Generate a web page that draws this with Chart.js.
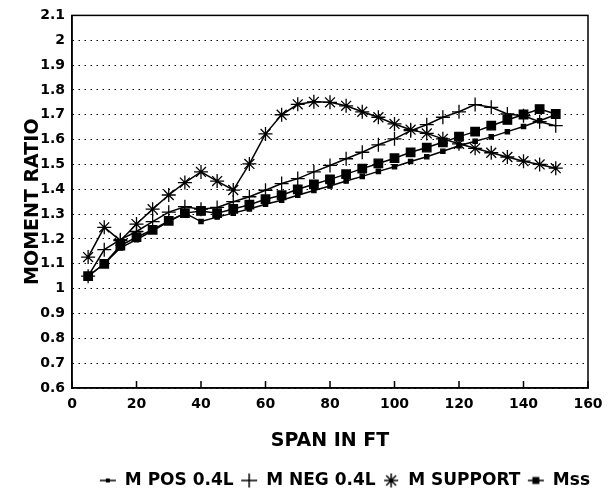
<!doctype html>
<html>
<head>
<meta charset="UTF-8">
<title>Moment Ratio</title>
<script src="https://cdn.jsdelivr.net/npm/chart.js@4.4.1/dist/chart.umd.min.js"></script>
<style>
	html, body { margin: 0; padding: 0; background: #fff; }
	#holder { width: 615px; height: 496px; }
</style>
</head>
<body>
<div id="holder">
	<canvas id="chart-area"></canvas>
</div>
<script>
	// span (ft) along the x axis
	var spans = [5, 10, 15, 20, 25, 30, 35, 40, 45, 50, 55, 60, 65, 70, 75,
		80, 85, 90, 95, 100, 105, 110, 115, 120, 125, 130, 135, 140, 145, 150];

	var posMoment = [1.05, 1.10, 1.164, 1.197, 1.233, 1.27, 1.304, 1.27, 1.288, 1.304,
		1.321, 1.34, 1.356, 1.376, 1.395, 1.413, 1.433, 1.452, 1.472, 1.491,
		1.512, 1.531, 1.553, 1.575, 1.593, 1.611, 1.632, 1.653, 1.676, 1.70];

	var negMoment = [1.05, 1.157, 1.197, 1.23, 1.27, 1.308, 1.33, 1.32, 1.327, 1.35,
		1.37, 1.396, 1.423, 1.443, 1.47, 1.496, 1.523, 1.549, 1.579, 1.603,
		1.636, 1.66, 1.69, 1.712, 1.741, 1.73, 1.703, 1.696, 1.672, 1.656];

	var supportMoment = [1.127, 1.247, 1.193, 1.26, 1.32, 1.377, 1.427, 1.47, 1.433, 1.397,
		1.502, 1.623, 1.70, 1.742, 1.752, 1.75, 1.736, 1.712, 1.69, 1.663,
		1.64, 1.625, 1.603, 1.583, 1.565, 1.547, 1.53, 1.513, 1.50, 1.485];

	var mssMoment = [1.05, 1.10, 1.173, 1.207, 1.237, 1.273, 1.304, 1.313, 1.304, 1.321,
		1.338, 1.36, 1.376, 1.40, 1.42, 1.44, 1.461, 1.483, 1.504, 1.525,
		1.549, 1.568, 1.589, 1.612, 1.632, 1.656, 1.679, 1.701, 1.723, 1.703];

	var seriesNames = ['M POS 0.4L', 'M NEG 0.4L', 'M SUPPORT', 'Mss'];
	var xTicks = [0, 20, 40, 60, 80, 100, 120, 140, 160];

	function pairs(vals) {
		return spans.map(function (s, i) { return {x: s, y: vals[i]}; });
	}

	// little legend glyphs
	function makeIcon(kind) {
		var c = document.createElement('canvas');
		c.width = 18; c.height = 16;
		var g = c.getContext('2d');
		g.strokeStyle = '#000'; g.fillStyle = '#000'; g.lineWidth = 1.5;
		var cx = 9, cy = 8;
		if (kind === 'pos' || kind === 'mss') {
			g.beginPath(); g.moveTo(1, cy); g.lineTo(17, cy); g.stroke();
			var s = kind === 'pos' ? 4 : 7;
			g.fillRect(cx - s / 2, cy - s / 2, s, s);
		} else if (kind === 'neg') {
			g.beginPath();
			g.moveTo(1, cy); g.lineTo(17, cy);
			g.moveTo(cx, 1); g.lineTo(cx, 15);
			g.stroke();
		} else {
			g.beginPath();
			for (var k = 0; k < 4; k++) {
				var a = k * Math.PI / 4;
				g.moveTo(cx - 7 * Math.cos(a), cy - 7 * Math.sin(a));
				g.lineTo(cx + 7 * Math.cos(a), cy + 7 * Math.sin(a));
			}
			g.stroke();
		}
		return c;
	}
	var icons = [makeIcon('pos'), makeIcon('neg'), makeIcon('sup'), makeIcon('mss')];

	Chart.defaults.font.family = "'DejaVu Sans', sans-serif";
	Chart.defaults.font.weight = 'bold';
	Chart.defaults.color = '#000';

	var boxPlugin = {
		id: 'box',
		afterLayout: function (chart) {
			// legend sits a bit right of the plot in the original
			chart.legend.left += 9;
			chart.legend.right += 9;
		},
		afterDatasetsDraw: function (chart) {
			var a = chart.chartArea, ctx = chart.ctx, xs = chart.scales.x;
			ctx.save();
			ctx.strokeStyle = '#000';
			ctx.lineWidth = 1.5;
			ctx.strokeRect(a.left, a.top, a.right - a.left, a.bottom - a.top);
			ctx.beginPath();
			xTicks.forEach(function (t) {
				var px = xs.getPixelForValue(t);
				ctx.moveTo(px, a.bottom);
				ctx.lineTo(px, a.bottom - 7);
			});
			ctx.stroke();
			ctx.restore();
		}
	};

	var common = {
		borderColor: '#000',
		backgroundColor: '#000',
		borderWidth: 1.5,
		pointBorderColor: '#000',
		pointBackgroundColor: '#000',
		pointBorderWidth: 1.3,
		tension: 0
	};

	var config = {
		type: 'line',
		data: {
			datasets: [
				Object.assign({label: seriesNames[0], data: pairs(posMoment), pointStyle: 'rect', pointRadius: 3}, common),
				Object.assign({label: seriesNames[1], data: pairs(negMoment), pointStyle: 'cross', pointRadius: 7}, common),
				Object.assign({label: seriesNames[2], data: pairs(supportMoment), pointStyle: 'star', pointRadius: 7, pointBorderWidth: 1.1}, common),
				Object.assign({label: seriesNames[3], data: pairs(mssMoment), pointStyle: 'rect', pointRadius: 6}, common)
			]
		},
		options: {
			responsive: true,
			maintainAspectRatio: false,
			animation: false,
			layout: {padding: {left: 0, top: 13, right: 27, bottom: -3}},
			plugins: {
				tooltip: {enabled: false},
				legend: {
					position: 'bottom',
					align: 'end',
					labels: {
						usePointStyle: true,
						boxWidth: 18,
						boxHeight: 16,
						padding: 7,
						font: {size: 17, weight: 'bold'},
						generateLabels: function (chart) {
							var items = Chart.defaults.plugins.legend.labels.generateLabels(chart);
							items.forEach(function (it, i) { it.pointStyle = icons[i]; });
							return items;
						}
					}
				}
			},
			scales: {
				x: {
					type: 'linear',
					min: 0,
					max: 160,
					ticks: {stepSize: 20, padding: 8, font: {size: 14, weight: 'bold'}},
					grid: {display: false, drawTicks: false},
					border: {color: '#000', width: 1.5},
					title: {display: true, text: 'SPAN IN FT', font: {size: 19, weight: 'bold'}, padding: {top: 0, bottom: 13}},
					afterFit: function (scale) { scale.height = 77; }
				},
				y: {
					min: 0.6,
					max: 2.1,
					ticks: {
						stepSize: 0.1,
						autoSkip: false,
						maxTicksLimit: 30,
						padding: 7,
						font: {size: 14, weight: 'bold'},
						callback: function (v) { return String(Math.round(v * 10) / 10); }
					},
					grid: {color: '#000', lineWidth: 1, drawTicks: false},
					border: {color: '#000', width: 1.5, dash: [1.5, 4.5]},
					title: {display: true, text: 'MOMENT RATIO', font: {size: 19, weight: 'bold'}, padding: {top: 22, bottom: 0}},
					afterFit: function (scale) { scale.width = 72; }
				}
			}
		},
		plugins: [boxPlugin]
	};

	var ctx = document.getElementById('chart-area').getContext('2d');
	window.myLine = new Chart(ctx, config);
</script>
</body>
</html>
